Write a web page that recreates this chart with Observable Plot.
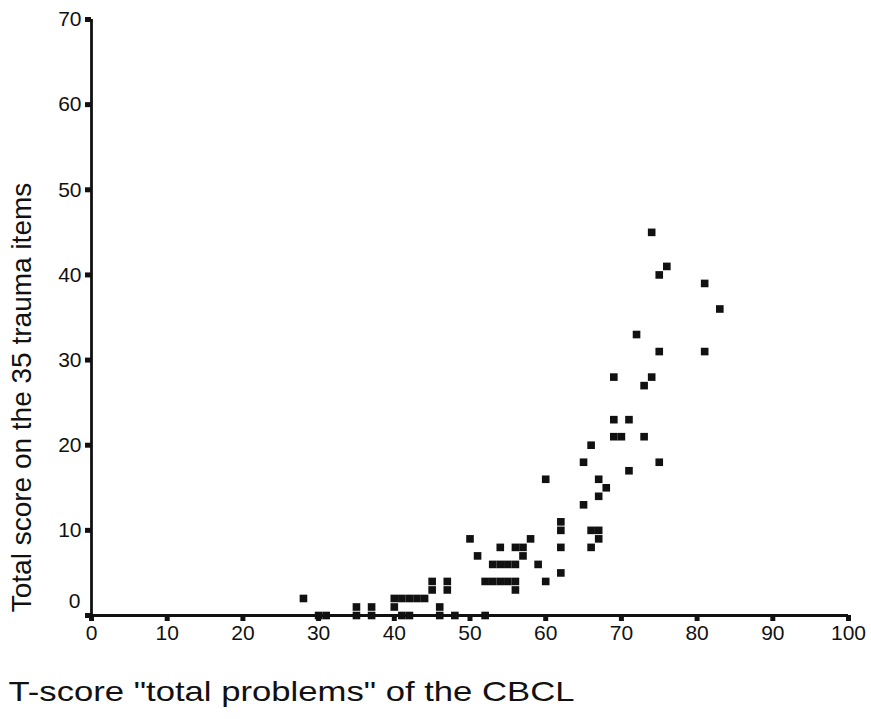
<!DOCTYPE html>
<html><head><meta charset="utf-8">
<script src="https://cdn.jsdelivr.net/npm/d3@7"></script>
<script src="https://cdn.jsdelivr.net/npm/@observablehq/plot@0.6"></script>
<style>body{margin:0;background:#fff;}</style>
</head><body><div id="chart"></div>
<script>
const tScore = [28, 30,31, 35,35, 37,37, 41,42, 40, 40,41,42,43,44, 45,45, 46,46, 47,47, 48, 52, 50, 51, 52,53,54,55,56, 56, 53,54,55,56, 54,56,57, 57, 58, 59, 60, 60, 62,62,62,62, 65,65, 66,66,66, 67,67,67,67, 68, 69,70,69,69, 71,71, 72, 73,73, 74,74, 75,75,75, 76, 81,81, 83];
const traumaScore = [2, 0,0, 0,1, 0,1, 0,0, 1, 2,2,2,2,2, 3,4, 0,1, 3,4, 0, 0, 9, 7, 4,4,4,4,4, 3, 6,6,6,6, 8,8,8, 7, 9, 6, 4, 16, 5,8,10,11, 13,18, 8,10,20, 9,10,14,16, 15, 21,21,23,28, 17,23, 33, 21,27, 28,45, 18,31,40, 41, 31,39, 36];
const xTicks = [0,10,20,30,40,50,60,70,80,90,100];
const yTicks = [10,20,30,40,50,60,70];
const yZeroTick = [0];
const xTitle = 'T-score "total problems" of the CBCL';
const yTitle = "Total score on the 35 trauma items";

const data = tScore.map((x, i) => ({x, y: traumaScore[i]}));
const xMin = d3.min(xTicks), xMax = d3.max(xTicks);
const yMax = d3.max(yTicks);

const chart = Plot.plot({
  width: 871, height: 719,
  marginLeft: 91, marginRight: 23, marginTop: 19, marginBottom: 104,
  style: {fontFamily: "'Liberation Sans', Arial, sans-serif", background: "white", color: "#111"},
  x: {domain: [xMin, xMax]},
  y: {domain: [0, yMax]},
  marks: [
    Plot.axisX({ticks: xTicks, tickSize: 6, strokeWidth: 5, tickPadding: 4, fontSize: 21, label: null}),
    Plot.axisY({ticks: yTicks, tickSize: 6, strokeWidth: 5, tickPadding: 4, fontSize: 21, label: null}),
    Plot.axisY({ticks: yZeroTick, tickSize: 6, strokeWidth: 5, text: null, label: null}),
    Plot.axisY({ticks: yZeroTick, tickSize: 0, tickPadding: 11, dy: -14, fontSize: 21, label: null}),
    Plot.ruleX([xMin], {y1: 0, y2: yMax, strokeWidth: 2.8, stroke: "#111"}),
    Plot.ruleY([0], {x1: xMin, x2: xMax, strokeWidth: 2.8, stroke: "#111"}),
    Plot.dot(data, {x: "x", y: "y", symbol: "square", r: 4.3, fill: "#111", stroke: "none"}),
    Plot.text([xTitle], {frameAnchor: "bottom-left", textAnchor: "start", dx: -83, dy: 85, fontSize: 28, fill: "#111"}),
    Plot.text([yTitle], {frameAnchor: "left", textAnchor: "middle", rotate: -90, dx: -69, dy: 80, fontSize: 28, fill: "#111"})
  ]
});
// widen the x title glyphs to match the original's broad lettering
d3.select(chart).selectAll("text").filter(function() { return this.textContent === xTitle; })
  .attr("textLength", 566).attr("lengthAdjust", "spacingAndGlyphs");
document.getElementById("chart").append(chart);
</script>
</body></html>
